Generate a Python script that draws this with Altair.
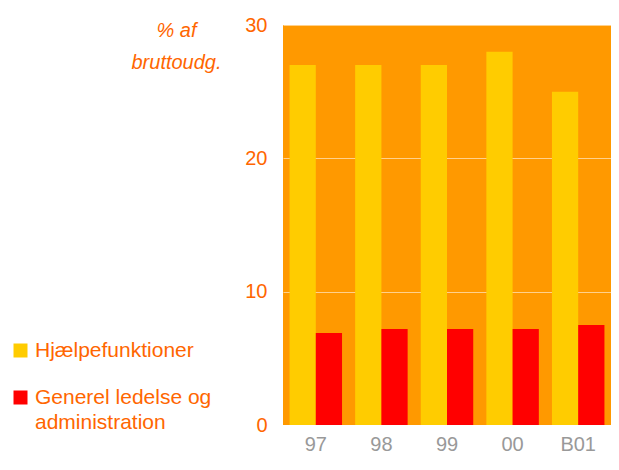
import altair as alt
import pandas as pd

years = ["97", "98", "99", "00", "B01"]
series = ["Hjælpefunktioner", "Generel ledelse og administration"]
hjaelp = [27.0, 27.0, 27.0, 28.0, 25.0]
generel = [6.9, 7.2, 7.2, 7.2, 7.5]
colors = ["#FFCC00", "#FF0000"]

rows = []
for y, v in zip(years, hjaelp):
    rows.append({"year": y, "series": series[0], "value": v})
for y, v in zip(years, generel):
    rows.append({"year": y, "series": series[1], "value": v})
df = pd.DataFrame(rows)

FONT = "Liberation Sans"
ORANGE_TXT = "#FF6600"

chart = alt.Chart(df).mark_bar().encode(
    x=alt.X("year:N", sort=years,
            scale=alt.Scale(paddingInner=0.2, paddingOuter=0.1),
            axis=alt.Axis(title=None, labelAngle=0, labelColor="#999999",
                          labelFontSize=20, labelFont=FONT, ticks=False,
                          domain=False, labelPadding=9)),
    xOffset=alt.XOffset("series:N", sort=series),
    y=alt.Y("value:Q", scale=alt.Scale(domain=[0, 30]),
            axis=alt.Axis(values=[0, 10, 20, 30], ticks=False, domain=False,
                          labelColor=ORANGE_TXT, labelFontSize=20, labelFont=FONT,
                          labelPadding=16, gridColor="white", gridOpacity=0.55,
                          gridWidth=1,
                          title=["% af", "bruttoudg."], titleAngle=0,
                          titleAlign="center", titleBaseline="top",
                          titleX=-107, titleY=-5, titleFontStyle="italic",
                          titleFontWeight="normal", titleFontSize=20,
                          titleFont=FONT, titleColor=ORANGE_TXT,
                          titleLineHeight=32)),
    color=alt.Color("series:N", sort=series,
                    scale=alt.Scale(domain=series, range=colors),
                    legend=alt.Legend(title=None, orient="none",
                                      legendX=-273, legendY=315,
                                      symbolType="square", symbolSize=196,
                                      symbolStrokeWidth=0,
                                      labelFontSize=21, labelFont=FONT,
                                      labelColor=ORANGE_TXT, labelLimit=300,
                                      rowPadding=25, labelOffset=4,
                                      labelExpr="datum.label == 'Generel ledelse og administration' ? ['Generel ledelse og', 'administration'] : datum.label")),
).properties(
    width=328, height=400,
    autosize=alt.AutoSizeParams(type="none"),
    padding={"left": 275, "top": 17, "right": 0, "bottom": 37},
).configure(style={"guide-label": {"lineHeight": 25}}
).configure_view(fill="#FF9900", strokeWidth=0)

chart.save("out.html", embed_options={"renderer": "svg", "actions": False})
